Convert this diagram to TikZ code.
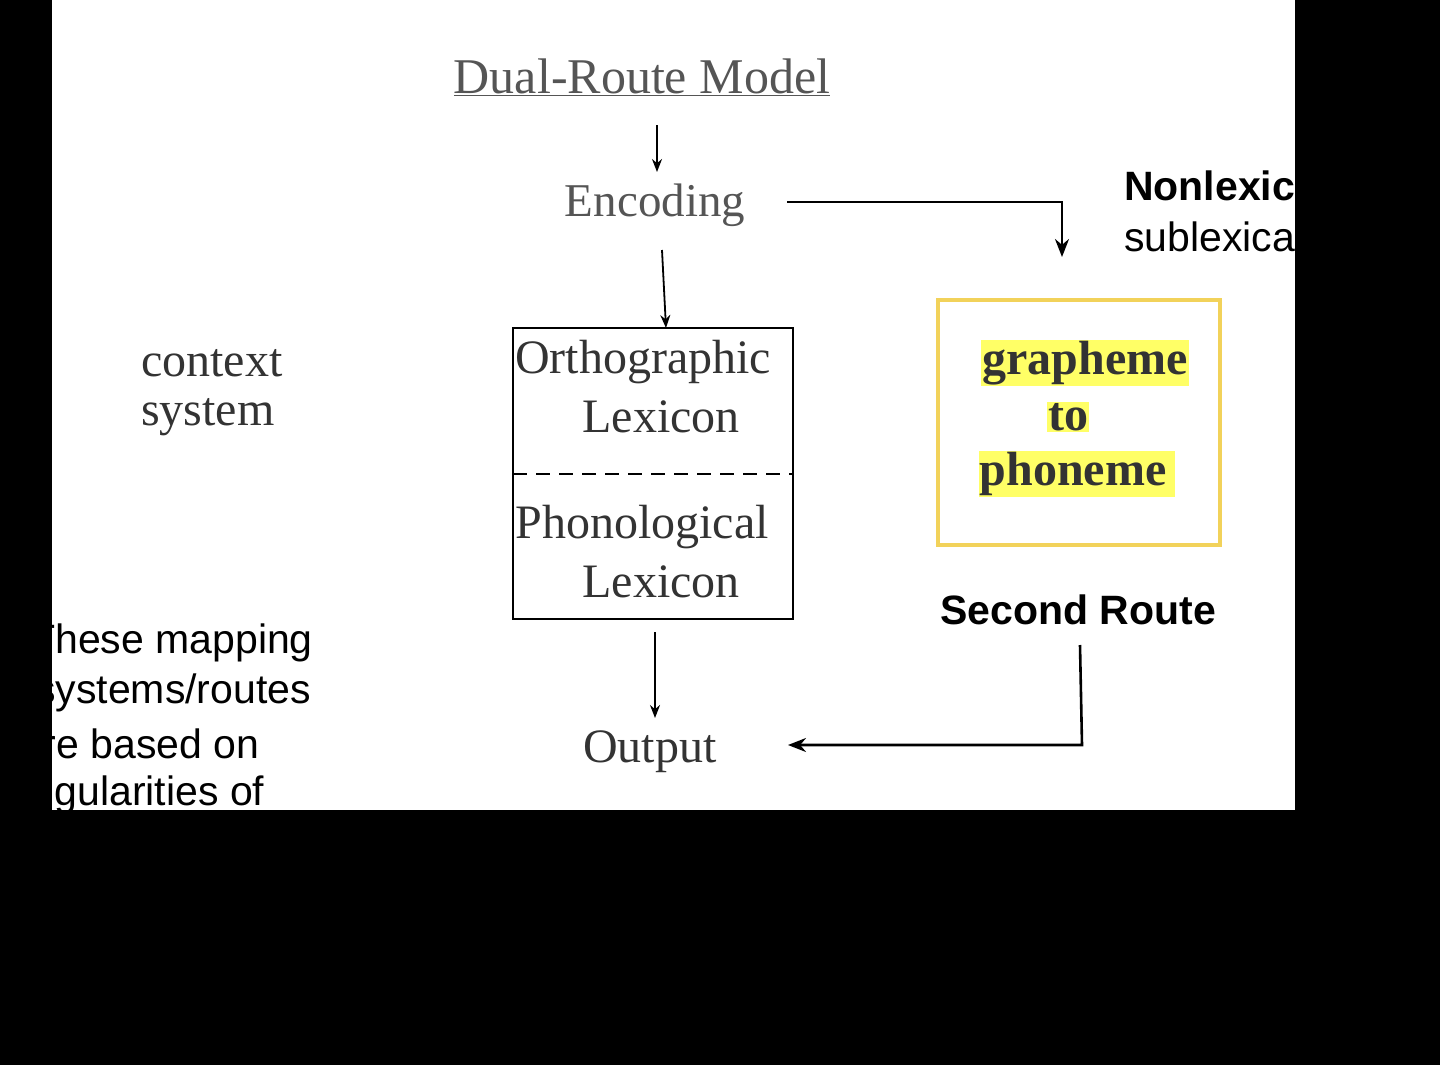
\documentclass[tikz,border=0pt]{standalone}
\usepackage{fontspec}
\setmainfont{Liberation Serif}
\setsansfont{Liberation Sans}
\usetikzlibrary{arrows.meta}
\definecolor{hl}{HTML}{FFFF66}
\definecolor{ybord}{HTML}{F2D25A}
\definecolor{gtxt}{HTML}{555555}
\definecolor{dtxt}{HTML}{333333}
\tikzset{
  ser/.style={font=\fontsize{48}{52}\selectfont, inner sep=0pt, text=dtxt},
  sans/.style={font=\sffamily\fontsize{41}{46}\selectfont, inner sep=0pt},
  sansb/.style={font=\sffamily\bfseries\fontsize{41}{46}\selectfont, inner sep=0pt},
  arr/.style={-{Stealth[length=13pt,width=10pt]}, line width=1.8pt},
  arrb/.style={-{Stealth[length=18pt,width=14pt]}, line width=2.6pt},
  hlt/.style={fill=hl, font=\bfseries\fontsize{48}{52}\selectfont, inner sep=1pt, text=dtxt}
}
\begin{document}
\begin{tikzpicture}[x=1pt,y=-1pt]
\fill[black] (0,0) rectangle (1440,1065);
\fill[white] (52,0) rectangle (1295,810);
\useasboundingbox (0,0) rectangle (1440,1065);
\begin{scope}
\clip (52,0) rectangle (1295,810);
\node[ser, text=gtxt, font=\fontsize{50}{54}\selectfont] (title) at (642,77) {\underline{Dual-Route Model}};
\node[ser, text=gtxt, font=\fontsize{47}{52}\selectfont] (enc) at (655,205) {Encoding};
\coordinate (t1) at (657,125);
\coordinate (e1) at (657,172);
\draw[arr] (t1) -- (e1);
\draw[line width=2.5pt] (513,328) rectangle (793,619);
\coordinate (boxtop) at (666,328);
\coordinate (encb) at (662,250);
\draw[arr] (encb) -- (boxtop);
\draw[line width=2.8pt, dash pattern=on 14pt off 9pt] (513,474) -- (793,474);
\node[ser] (orth) at (643,362) {Orthographic};
\node[ser] (lex1) at (661,417) {Lexicon};
\node[ser] (phon) at (642,527) {Phonological};
\node[ser] (lex2) at (661,582) {Lexicon};
\node[ser, anchor=west] (ctx) at (141,363) {context};
\node[ser, anchor=west] (sys) at (141,417) {system};
\coordinate (encr) at (787,202);
\coordinate (yb) at (1062,257);
\draw[arrb] (encr) -| (yb);
\node[sansb, anchor=west] (nl) at (1124,186) {Nonlexical};
\node[sans, anchor=west] (sl) at (1124,237) {sublexical};
\draw[ybord, line width=3.5pt] (938,300) rectangle (1220,545);
\node[hlt] (g) at (1085,363) {grapheme};
\node[hlt] (to) at (1068,417) {to};
\node[hlt] (ph) at (1077,474) {phoneme\,};
\node[sansb] (sr) at (1078,610) {Second Route};
\node[ser] (out) at (650,752) {Output};
\coordinate (bb) at (655,632);
\coordinate (ot) at (655,718);
\draw[arr] (bb) -- (ot);
\coordinate (s1) at (1080,645);
\coordinate (s2) at (1082,745);
\coordinate (s3) at (788,745);
\draw[arrb] (s1) -- (s2) -- (s3);
\node[sans, anchor=west] (l1) at (30,643) {These mapping};
\node[sans, anchor=west] (l2) at (35,693) {systems/routes};
\node[sans, anchor=west] (l3) at (20,744) {are based on};
\node[sans, anchor=west] (l4) at (18,795) {regularities of};
\end{scope}
\end{tikzpicture}
\end{document}
